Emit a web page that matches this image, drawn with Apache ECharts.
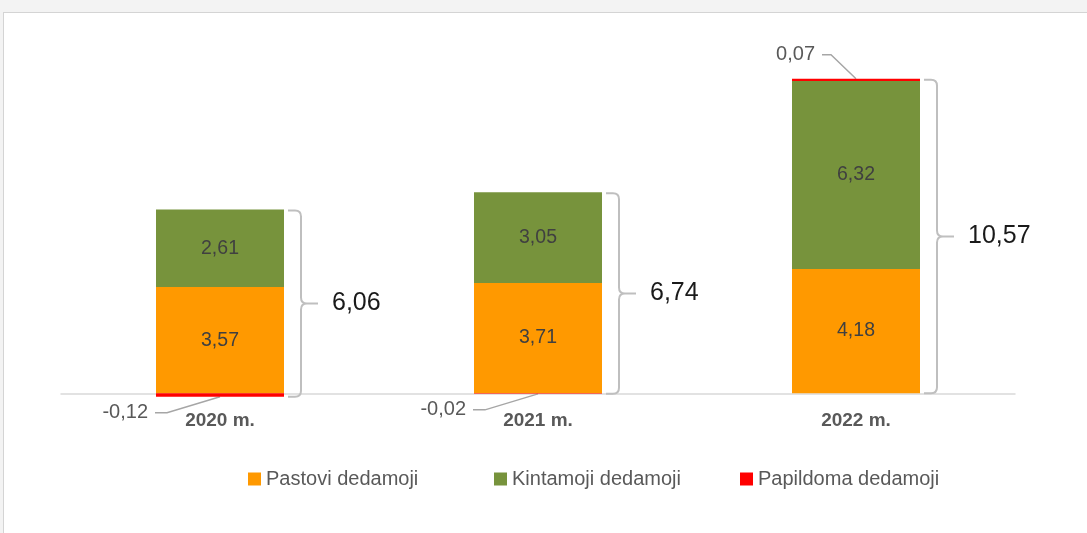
<!DOCTYPE html>
<html>
<head>
<meta charset="utf-8">
<script src="https://cdn.jsdelivr.net/npm/echarts@6/dist/echarts.min.js"></script>
<style>
  html, body { margin: 0; padding: 0; }
  body { width: 1087px; height: 533px; background: #f3f3f3; overflow: hidden; position: relative; }
  #frame { position: absolute; left: 3px; top: 12px; width: 1100px; height: 540px; background: #fff;
           border-left: 1px solid #d4d4d4; border-top: 1px solid #d4d4d4; }
  #chart { position: absolute; left: 0; top: 0; width: 1087px; height: 533px; }
</style>
</head>
<body>
<div id="frame"></div>
<div id="chart"></div>
<script>
  const YEARS = ["2020 m.", "2021 m.", "2022 m."];
  const FIXED = [3.57, 3.71, 4.18];       // Pastovi dedamoji
  const VARIABLE = [2.61, 3.05, 6.32];    // Kintamoji dedamoji
  const EXTRA = [-0.12, -0.02, 0.07];     // Papildoma dedamoji
  const TOTALS = [6.06, 6.74, 10.57];

  const NAMES = ["Pastovi dedamoji", "Kintamoji dedamoji", "Papildoma dedamoji"];
  const COLORS = ["#ff9900", "#77933c", "#ff0000"];
  const FONT = "'Liberation Sans', Arial, sans-serif";
  const BAR_W = 128;

  const fmt = (v) => v.toFixed(2).replace(".", ",");

  // where the red segment ends, and the span each brace covers
  const extraEnd = EXTRA.map((v, i) => (v < 0 ? v : FIXED[i] + VARIABLE[i] + v));
  const braceData = YEARS.map((_, i) => {
    const pos = FIXED[i] + VARIABLE[i] + Math.max(EXTRA[i], 0);
    const neg = Math.min(EXTRA[i], 0);
    return [i, neg, pos];
  });

  const chart = echarts.init(document.getElementById("chart"));

  const barLabel = {
    show: true,
    position: "inside",
    fontFamily: FONT,
    fontSize: 19.5,
    color: "#404040",
    formatter: (p) => fmt(p.value),
  };

  chart.setOption({
    animation: false,
    backgroundColor: "transparent",
    textStyle: { fontFamily: FONT },
    grid: { left: 61, right: 72, top: 66, height: 333.2 },
    legend: {
      data: NAMES,
      left: 243,
      top: 464,
      itemWidth: 13,
      itemHeight: 13,
      itemGap: 0,
      icon: "rect",
      textStyle: { fontFamily: FONT, fontSize: 20, color: "#595959", width: 228, lineHeight: 20 },
    },
    xAxis: {
      type: "category",
      data: YEARS,
      axisLine: { onZero: true, lineStyle: { color: "#d9d9d9", width: 1.5 } },
      axisTick: { show: false },
      axisLabel: { margin: 12, fontFamily: FONT, fontSize: 19, fontWeight: "bold", color: "#595959" },
    },
    yAxis: {
      type: "value",
      min: -0.2,
      max: 11,
      show: false,
      splitLine: { show: false },
    },
    series: [
      {
        name: NAMES[0], type: "bar", stack: "t", barWidth: BAR_W,
        itemStyle: { color: COLORS[0] }, label: barLabel, data: FIXED,
      },
      {
        name: NAMES[1], type: "bar", stack: "t", barWidth: BAR_W,
        itemStyle: { color: COLORS[1] }, label: barLabel, data: VARIABLE,
      },
      {
        name: NAMES[2], type: "bar", stack: "t", barWidth: BAR_W,
        itemStyle: { color: COLORS[2] }, data: EXTRA,
      },
      {
        // leader-line labels for the thin red segments
        type: "custom",
        silent: true,
        clip: false,
        data: extraEnd.map((v, i) => [i, v]),
        renderItem: (params, api) => {
          const i = params.dataIndex;
          const p = api.coord([api.value(0), api.value(1)]);
          const below = EXTRA[i] < 0;
          const dx = below ? -53 : -25;
          const dy = below ? 16 : -24;
          const stub = below ? 12 : 9;
          const ex = p[0] + dx, ey = p[1] + dy;
          return {
            type: "group",
            children: [
              {
                type: "polyline",
                shape: { points: [[p[0], p[1]], [ex, ey], [ex - stub, ey]] },
                style: { stroke: "#a6a6a6", lineWidth: 1.5, fill: null },
              },
              {
                type: "text",
                style: {
                  text: fmt(EXTRA[i]),
                  x: ex - stub - 7, y: ey,
                  align: "right", verticalAlign: "middle",
                  fontFamily: FONT, fontSize: 20, fill: "#595959",
                },
              },
            ],
          };
        },
      },
      {
        // braces with totals
        type: "custom",
        silent: true,
        clip: false,
        data: braceData,
        renderItem: (params, api) => {
          const i = params.dataIndex;
          const top = api.coord([api.value(0), api.value(2)]);
          const bot = api.coord([api.value(0), api.value(1)]);
          const right = top[0] + BAR_W / 2;
          const x0 = right + 4, xv = right + 17, xt = right + 34;
          const y0 = top[1] + 1, y1 = bot[1], ym = (y0 + y1) / 2;
          const r = 6;
          const d =
            `M${x0},${y0} L${xv - r},${y0} Q${xv},${y0} ${xv},${y0 + r} ` +
            `L${xv},${ym - r} Q${xv},${ym} ${xv + r},${ym} L${xt},${ym} ` +
            `M${xv + r},${ym} Q${xv},${ym} ${xv},${ym + r} ` +
            `L${xv},${y1 - r} Q${xv},${y1} ${xv - r},${y1} L${x0},${y1}`;
          return {
            type: "group",
            children: [
              {
                type: "path",
                shape: { pathData: d },
                style: { stroke: "#bfbfbf", lineWidth: 2, fill: null },
              },
              {
                type: "text",
                style: {
                  text: fmt(TOTALS[i]),
                  x: xt + 14, y: ym,
                  align: "left", verticalAlign: "middle",
                  fontFamily: FONT, fontSize: 25, fill: "#1a1a1a",
                },
              },
            ],
          };
        },
      },
    ],
  });
</script>
</body>
</html>
